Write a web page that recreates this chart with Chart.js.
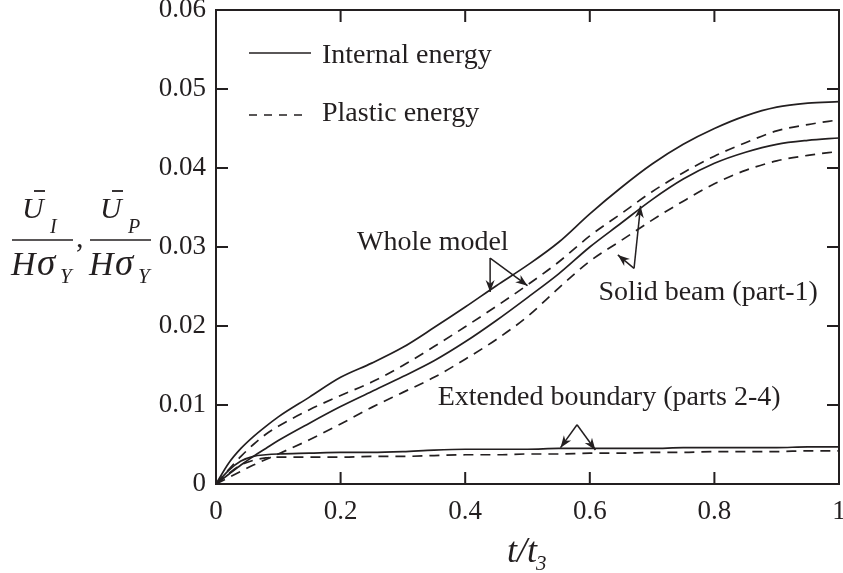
<!DOCTYPE html>
<html>
<head>
<meta charset="utf-8">
<title>Energy histories</title>
<script src="https://cdn.jsdelivr.net/npm/chart.js"></script>
<style>
  body { margin: 0; background: #fff; }
  #wrap { width: 843px; height: 573px; }
</style>
</head>
<body>
<div id="wrap"><canvas id="energyChart"></canvas></div>
<script>
// normalised time t/t3
const tValues = [0, 0.02, 0.04, 0.06, 0.08, 0.1, 0.15, 0.2, 0.25, 0.3, 0.35, 0.4, 0.45, 0.5,
                 0.55, 0.6, 0.65, 0.7, 0.75, 0.8, 0.85, 0.9, 0.95, 1];

// whole model
const wholeInternal = [0, 0.0026, 0.0045, 0.0060, 0.0073, 0.0085, 0.0110, 0.0135, 0.0153, 0.0173, 0.0198, 0.0224,
                       0.0251, 0.0277, 0.0306, 0.0342, 0.0375, 0.0405, 0.0430, 0.0450, 0.0466, 0.0477, 0.0482, 0.0484];
const wholePlastic = [0, 0.0018, 0.0035, 0.0050, 0.0063, 0.0073, 0.0094, 0.0112, 0.0129, 0.0150, 0.0174, 0.0199,
                      0.0225, 0.0252, 0.0281, 0.0314, 0.0342, 0.0370, 0.0394, 0.0415, 0.0432, 0.0447, 0.0455, 0.0461];
// solid beam (part-1)
const beamInternal = [0, 0.0012, 0.0024, 0.0035, 0.0045, 0.0055, 0.0077, 0.0098, 0.0117, 0.0136, 0.0156, 0.0180,
                      0.0207, 0.0236, 0.0266, 0.0300, 0.0330, 0.0360, 0.0386, 0.0406, 0.0420, 0.0430, 0.0435, 0.0438];
const beamPlastic = [0, 0.0008, 0.0016, 0.0024, 0.0031, 0.0038, 0.0056, 0.0076, 0.0097, 0.0116, 0.0135, 0.0158,
                     0.0183, 0.0212, 0.0248, 0.0282, 0.0308, 0.0334, 0.0358, 0.0380, 0.0397, 0.0409, 0.0416, 0.0421];
// extended boundary (parts 2-4)
const boundaryInternal = [0, 0.0017, 0.0029, 0.0035, 0.0037, 0.0038, 0.0039, 0.0040, 0.0040, 0.0041, 0.0043, 0.0044,
                          0.0044, 0.0044, 0.0045, 0.0045, 0.0045, 0.0045, 0.0046, 0.0046, 0.0046, 0.0046, 0.0047, 0.0047];
const boundaryPlastic = [0, 0.0013, 0.0024, 0.0030, 0.0033, 0.0034, 0.0034, 0.0034, 0.0035, 0.0035, 0.0036, 0.0037,
                         0.0037, 0.0038, 0.0038, 0.0039, 0.0039, 0.0040, 0.0040, 0.0041, 0.0041, 0.0041, 0.0042, 0.0042];

const xTickLabels = ['0', '0.2', '0.4', '0.6', '0.8', '1'];
const yTickLabels = ['0', '0.01', '0.02', '0.03', '0.04', '0.05', '0.06'];

const INK = '#231f20';
const SERIF = '"Liberation Serif", "DejaVu Serif", serif';
const DASH = [10, 7];

function series(values) {
  return tValues.map((t, i) => ({ x: t, y: values[i] }));
}

function lineSet(label, values, dashed) {
  return {
    label: label,
    data: series(values),
    borderColor: INK,
    borderWidth: 1.7,
    borderDash: dashed ? DASH : [],
    pointRadius: 0,
    fill: false,
    cubicInterpolationMode: 'monotone'
  };
}

// callouts in data units: label centre, arrow start, arrow tips
const callouts = [
  { text: 'Whole model', at: [0.348, 0.0305], from: [0.44, 0.0286], tips: [[0.44, 0.0243], [0.5, 0.0251]] },
  { text: 'Solid beam (part-1)', at: [0.79, 0.0242], from: [0.671, 0.0273], tips: [[0.6815, 0.0352], [0.645, 0.0290]] },
  { text: 'Extended boundary (parts 2-4)', at: [0.631, 0.0109], from: [0.5795, 0.0075], tips: [[0.553, 0.0046], [0.609, 0.0043]] }
];

function arrowHead(ctx, x0, y0, x1, y1) {
  const a = Math.atan2(y1 - y0, x1 - x0);
  const len = 12, half = 4.5;
  ctx.save();
  ctx.translate(x1, y1);
  ctx.rotate(a);
  ctx.beginPath();
  ctx.moveTo(0, 0);
  ctx.lineTo(-len, -half);
  ctx.lineTo(-len * 0.7, 0);
  ctx.lineTo(-len, half);
  ctx.closePath();
  ctx.fill();
  ctx.restore();
}

// frame with inward ticks on all four sides
const framePlugin = {
  id: 'frame',
  afterDraw(chart) {
    const { ctx, chartArea: a, scales } = chart;
    const tick = 12;
    ctx.save();
    ctx.strokeStyle = INK;
    ctx.lineWidth = 2;
    ctx.strokeRect(a.left, a.top, a.right - a.left, a.bottom - a.top);
    ctx.beginPath();
    scales.x.ticks.forEach(t => {
      const px = scales.x.getPixelForValue(t.value);
      ctx.moveTo(px, a.bottom); ctx.lineTo(px, a.bottom - tick);
      ctx.moveTo(px, a.top); ctx.lineTo(px, a.top + tick);
    });
    scales.y.ticks.forEach(t => {
      const py = scales.y.getPixelForValue(t.value);
      ctx.moveTo(a.left, py); ctx.lineTo(a.left + tick, py);
      ctx.moveTo(a.right, py); ctx.lineTo(a.right - tick, py);
    });
    ctx.stroke();
    ctx.restore();
  }
};

// one U/(H sigma_Y) fraction of the y title, dx = horizontal offset
function energyFraction(ctx, sub, dx) {
  ctx.font = 'italic 30px ' + SERIF;
  ctx.fillText('U', 22 + dx, 218);
  ctx.lineWidth = 1.8;
  ctx.beginPath();
  ctx.moveTo(34 + dx, 191); ctx.lineTo(45 + dx, 191);
  ctx.stroke();
  ctx.font = 'italic 20px ' + SERIF;
  ctx.fillText(sub, 50 + dx, 233);
  ctx.lineWidth = 1.5;
  ctx.beginPath();
  ctx.moveTo(12 + dx, 240); ctx.lineTo(73 + dx, 240);
  ctx.stroke();
  ctx.font = 'italic 34px ' + SERIF;
  ctx.fillText('H', 11 + dx, 275);
  ctx.font = 'italic 37px ' + SERIF;
  ctx.fillText('\u03c3', 37 + dx, 275);
  ctx.font = 'italic 21px ' + SERIF;
  ctx.fillText('Y', 60 + dx, 283);
}

// legend, callouts and axis titles
const textPlugin = {
  id: 'texts',
  afterDraw(chart) {
    const { ctx, chartArea: a, scales } = chart;
    const X = v => scales.x.getPixelForValue(v);
    const Y = v => scales.y.getPixelForValue(v);
    ctx.save();
    ctx.fillStyle = INK;
    ctx.strokeStyle = INK;

    // legend
    ctx.lineWidth = 1.7;
    ctx.beginPath();
    ctx.moveTo(a.left + 33, a.top + 43); ctx.lineTo(a.left + 95, a.top + 43);
    ctx.stroke();
    ctx.setLineDash([8, 7]);
    ctx.beginPath();
    ctx.moveTo(a.left + 33, a.top + 105); ctx.lineTo(a.left + 92, a.top + 105);
    ctx.stroke();
    ctx.setLineDash([]);
    ctx.font = '28px ' + SERIF;
    ctx.textAlign = 'left';
    ctx.textBaseline = 'alphabetic';
    ctx.fillText('Internal energy', a.left + 106, a.top + 53);
    ctx.fillText('Plastic energy', a.left + 106, a.top + 111);

    // callouts
    ctx.lineWidth = 1.5;
    callouts.forEach(c => {
      ctx.textAlign = 'center';
      ctx.textBaseline = 'middle';
      ctx.fillText(c.text, X(c.at[0]), Y(c.at[1]));
      const fx = X(c.from[0]), fy = Y(c.from[1]);
      c.tips.forEach(tp => {
        const tx = X(tp[0]), ty = Y(tp[1]);
        ctx.beginPath();
        ctx.moveTo(fx, fy); ctx.lineTo(tx, ty);
        ctx.stroke();
        arrowHead(ctx, fx, fy, tx, ty);
      });
    });

    // x title: t/t3
    ctx.textAlign = 'left';
    ctx.textBaseline = 'alphabetic';
    ctx.font = 'italic 36px ' + SERIF;
    const xt = 't/t';
    const xw = ctx.measureText(xt).width;
    const x0 = 527 - (xw + 10) / 2;
    ctx.fillText(xt, x0, 562);
    ctx.font = 'italic 21px ' + SERIF;
    ctx.fillText('3', x0 + xw - 1, 570);

    // y title: U_I/(H sigma_Y), U_P/(H sigma_Y)
    energyFraction(ctx, 'I', 0);
    energyFraction(ctx, 'P', 78);
    ctx.font = '30px ' + SERIF;
    ctx.fillText(',', 76, 247);
    ctx.restore();
  }
};

const ctx = document.getElementById('energyChart').getContext('2d');
const chart = new Chart(ctx, {
  type: 'line',
  data: {
    datasets: [
      lineSet('Whole model internal', wholeInternal, false),
      lineSet('Whole model plastic', wholePlastic, true),
      lineSet('Solid beam internal', beamInternal, false),
      lineSet('Solid beam plastic', beamPlastic, true),
      lineSet('Extended boundary internal', boundaryInternal, false),
      lineSet('Extended boundary plastic', boundaryPlastic, true)
    ]
  },
  options: {
    responsive: true,
    maintainAspectRatio: false,
    animation: false,
    layout: { padding: { top: 10, right: 4, bottom: 0, left: 0 } },
    plugins: { legend: { display: false }, tooltip: { enabled: false } },
    scales: {
      x: {
        type: 'linear',
        min: 0,
        max: 1,
        grid: { display: false, drawTicks: false },
        border: { display: false },
        ticks: {
          stepSize: 0.2,
          padding: 12,
          color: INK,
          font: { family: SERIF, size: 27 },
          maxRotation: 0,
          callback: (v, i) => xTickLabels[i]
        },
        afterFit(scale) {
          scale.height = 89;
          scale.paddingLeft = 0;
          scale.paddingRight = 0;
        }
      },
      y: {
        min: 0,
        max: 0.06,
        grid: { display: false, drawTicks: false },
        border: { display: false },
        ticks: {
          stepSize: 0.01,
          padding: 10,
          color: INK,
          font: { family: SERIF, size: 27 },
          callback: (v, i) => yTickLabels[i]
        },
        afterFit(scale) {
          scale.width = 216;
          scale.paddingTop = 0;
          scale.paddingBottom = 0;
        }
      }
    }
  },
  plugins: [framePlugin, textPlugin]
});
</script>
</body>
</html>
